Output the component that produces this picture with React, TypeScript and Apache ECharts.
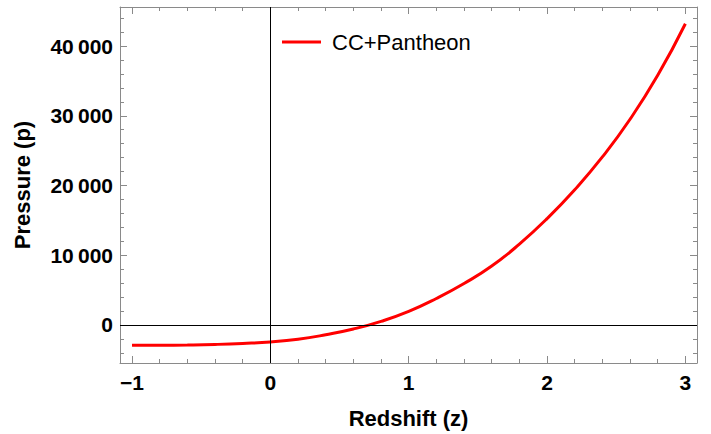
import React, { useEffect, useRef } from "react";
import * as echarts from "echarts";

// Redshift (z) sample points and pressure
const redshift = [-1.0, -0.8, -0.6, -0.4, -0.2, 0.0, 0.2, 0.4, 0.6, 0.8, 1.0, 1.2, 1.4, 1.6, 1.8, 2.0, 2.2, 2.4, 2.6, 2.8, 3.0];
const pressure = [-2920, -2910, -2870, -2790, -2650, -2440, -2050, -1400, -580, 520, 1950, 3800, 5950, 8450, 11600, 15250, 19400, 24100, 29500, 35800, 43200];

const seriesName = "CC+Pantheon";
const xTitle = "Redshift (z)";
const yTitle = "Pressure (p)";

const xMajorTicks = [-1, 0, 1, 2, 3];
const xMinorTicks = [-0.8, -0.6, -0.4, -0.2, 0.2, 0.4, 0.6, 0.8, 1.2, 1.4, 1.6, 1.8, 2.2, 2.4, 2.6, 2.8];
const yMajorTicks = [0, 10000, 20000, 30000, 40000];
const yMinorTicks = [-4000, -2000, 2000, 4000, 6000, 8000, 12000, 14000, 16000, 18000, 22000, 24000, 26000, 28000, 32000, 34000, 36000, 38000, 42000, 44000];

const X_MIN = -1.087;
const X_MAX = 3.084;
const Y_MIN = -5450;
const Y_MAX = 45600;

const FRAME = "#8a8a8a";
const FONT = "'Liberation Sans', Arial, sans-serif";

const fmtX = (v: number) => (v < 0 ? "\u2212" + Math.abs(v) : String(v));
const fmtY = (v: number) => {
  const s = String(Math.abs(Math.round(v)));
  const withSep = s.length > 3 ? s.slice(0, s.length - 3) + "\u2009" + s.slice(s.length - 3) : s;
  return (v < 0 ? "\u2212" : "") + withSep;
};

function makeX(position: "top" | "bottom", major: boolean, withLabel: boolean, withName: boolean) {
  return {
    type: "value",
    position,
    min: X_MIN,
    max: X_MAX,
    name: withName ? xTitle : "",
    nameLocation: "middle",
    nameGap: 44,
    nameTextStyle: { fontFamily: FONT, fontSize: 22, fontWeight: "bold", color: "#000" },
    axisLine: { show: major, onZero: false, lineStyle: { color: FRAME, width: 1 } },
    axisTick: {
      show: true,
      inside: true,
      length: major ? 7 : 4,
      customValues: major ? xMajorTicks : xMinorTicks,
      lineStyle: { color: FRAME, width: 1 },
    },
    axisLabel: {
      show: withLabel,
      customValues: xMajorTicks,
      formatter: fmtX,
      margin: 9,
      fontFamily: FONT,
      fontSize: 21,
      fontWeight: "bold",
      color: "#000",
    },
    splitLine: { show: false },
  };
}

function makeY(position: "left" | "right", major: boolean, withLabel: boolean, withName: boolean) {
  return {
    type: "value",
    position,
    min: Y_MIN,
    max: Y_MAX,
    name: withName ? yTitle : "",
    nameLocation: "middle",
    nameGap: 87,
    nameRotate: 90,
    nameTextStyle: { fontFamily: FONT, fontSize: 22, fontWeight: "bold", color: "#000" },
    axisLine: { show: major, onZero: false, lineStyle: { color: FRAME, width: 1 } },
    axisTick: {
      show: true,
      inside: true,
      length: major ? 7 : 4,
      customValues: major ? yMajorTicks : yMinorTicks,
      lineStyle: { color: FRAME, width: 1 },
    },
    axisLabel: {
      show: withLabel,
      customValues: yMajorTicks,
      formatter: fmtY,
      margin: 7,
      fontFamily: FONT,
      fontSize: 21,
      fontWeight: "bold",
      color: "#000",
    },
    splitLine: { show: false },
  };
}

export default function App() {
  const ref = useRef<HTMLDivElement>(null);
  useEffect(() => {
    if (!ref.current) return;
    const chart = echarts.init(ref.current, undefined, { renderer: "svg" });
    const data = redshift.map((z, i) => [z, pressure[i]]);
    chart.setOption({
      animation: false,
      backgroundColor: "#fff",
      grid: { left: 120, right: 14, top: 7, bottom: 71, containLabel: false },
      xAxis: [
        makeX("bottom", true, true, true),
        makeX("top", true, false, false),
        makeX("bottom", false, false, false),
        makeX("top", false, false, false),
      ],
      yAxis: [
        makeY("left", true, true, true),
        makeY("right", true, false, false),
        makeY("left", false, false, false),
        makeY("right", false, false, false),
      ],
      legend: {
        show: true,
        left: 277,
        top: 26,
        itemWidth: 39,
        itemHeight: 3,
        icon: "rect",
        data: [{ name: seriesName, icon: "rect" }],
        textStyle: { fontFamily: FONT, fontSize: 22, color: "#000", padding: [0, 0, 0, 6] },
      },
      series: [
        {
          name: seriesName,
          type: "line",
          xAxisIndex: 0,
          yAxisIndex: 0,
          data,
          smooth: true,
          symbol: "none",
          showSymbol: false,
          lineStyle: { color: "#ff0000", width: 3 },
          itemStyle: { color: "#ff0000" },
          z: 3,
          markLine: {
            silent: true,
            symbol: ["none", "none"],
            label: { show: false },
            lineStyle: { color: "#000", width: 1, type: "solid" },
            data: [{ xAxis: 0 }, { yAxis: 0 }],
          },
        },
      ],
    });
    return () => chart.dispose();
  }, []);
  return <div ref={ref} style={{ position: "fixed", left: 0, top: 0, width: 711, height: 434, background: "#fff" }} />;
}
